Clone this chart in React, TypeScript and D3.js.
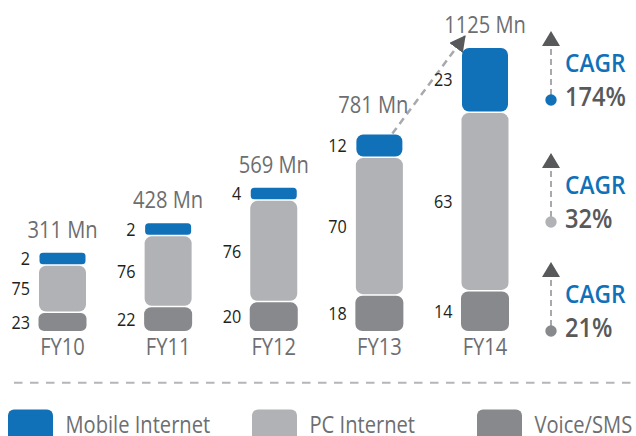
import React from "react";
import * as d3 from "d3";

// ---- data ----
const categories = ["FY10", "FY11", "FY12", "FY13", "FY14"];
const totals = [311, 428, 569, 781, 1125];
const voiceShare = [23, 22, 20, 18, 14];
const pcShare = [75, 76, 76, 70, 63];
const mobileShare = [2, 2, 4, 12, 23];
const seriesNames = ["Mobile Internet", "PC Internet", "Voice/SMS"];
const cagrValues = ["174%", "32%", "21%"];
const totalUnit = "Mn";

// ---- styles ----
const BLUE = "#1071b9";
const LIGHT = "#b1b2b5";
const DARK = "#88898c";
const TEXT_GRAY = "#6d6e71";
const TEXT_DARK = "#58595b";
const FONT = "'Open Sans', 'Noto Sans', sans-serif";
const seriesColors = [BLUE, LIGHT, DARK];
const SX = 0.875;

function T(props: {
  x: number;
  y: number;
  size: number;
  fill: string;
  anchor?: string;
  weight?: number;
  dy?: string;
  children: React.ReactNode;
}) {
  const { x, y, size, fill, anchor = "start", weight = 400, dy, children } = props;
  return (
    <text
      transform={`translate(${x},${y}) scale(${SX},1)`}
      textAnchor={anchor}
      fontSize={size}
      fontWeight={weight}
      fill={fill}
      dy={dy}
    >
      {children}
    </text>
  );
}

export default function App() {
  const W = 636;
  const H = 436;
  const base = 331;
  const bw = 47;
  const gap = 1.5;
  const minSeg = 13;

  const x = d3.scalePoint<string>().domain(categories).range([62.5, 485]);
  const h = d3.scaleLinear().domain([0, d3.max(totals)!]).range([0, 283]);

  const bars = categories.map((c, i) => {
    const total = h(totals[i]);
    const dark = (total * voiceShare[i]) / 100;
    const blue = Math.max((total * mobileShare[i]) / 100, minSeg);
    const light = total - dark - blue;
    const cx = x(c)!;
    const top = base - total;
    const segs = [
      { key: "voice", y0: base - dark, y1: base, color: DARK, val: voiceShare[i], w: bw + 1 },
      { key: "pc", y0: base - dark - light, y1: base - dark - gap, color: LIGHT, val: pcShare[i], w: bw },
      { key: "mobile", y0: top, y1: base - dark - light - gap, color: BLUE, val: mobileShare[i], w: bw - 1 },
    ];
    return { c, i, cx, top, segs };
  });

  const n = bars.length;
  const a = bars[n - 2];
  const b = bars[n - 1];
  const arrowStart = [a.cx + 13, a.top - 1];
  const arrowEnd = [b.cx - 20, b.top - 12];

  const cagrTops = [31, 153, 262];
  const cagrDot = [BLUE, LIGHT, DARK];
  const cx0 = 551;

  const legendX = [8, 252, 477];

  return (
    <svg
      width={W}
      height={H}
      style={{ position: "absolute", left: 0, top: 0, fontFamily: FONT }}
    >
      <rect width={W} height={H} fill="#ffffff" />
      <defs>
        <marker
          id="ah"
          markerUnits="userSpaceOnUse"
          markerWidth={18}
          markerHeight={18}
          refX={15}
          refY={8.5}
          orient="auto"
        >
          <path d="M0,0 L16,8.5 L0,17 Z" fill={TEXT_DARK} />
        </marker>
      </defs>

      {/* arrow between last two bars */}
      <line
        x1={arrowStart[0]}
        y1={arrowStart[1]}
        x2={arrowEnd[0]}
        y2={arrowEnd[1]}
        stroke="#a7a9ac"
        strokeWidth={2.5}
        strokeDasharray="7 5"
        markerEnd="url(#ah)"
      />

      {bars.map((bar) => (
        <g key={bar.c}>
          {bar.segs.map((s) => {
            const hh = s.y1 - s.y0;
            return (
              <g key={s.key}>
                <rect
                  x={bar.cx - s.w / 2}
                  y={s.y0}
                  width={s.w}
                  height={hh}
                  rx={Math.min(7, hh / 3.2)}
                  fill={s.color}
                />
                <T
                  x={bar.cx - bw / 2 - 9}
                  y={(s.y0 + s.y1) / 2}
                  dy="0.36em"
                  anchor="end"
                  size={18.5}
                  fill="#231f20"
                >
                  {s.val}
                </T>
              </g>
            );
          })}
          <T
            x={bar.cx + (bar.i === n - 2 ? -6 : 0)}
            y={bar.top - 15 + (bar.i === n - 2 ? -7 : 0)}
            anchor="middle"
            size={23}
            fill={TEXT_GRAY}
          >
            {`${totals[bar.i]} ${totalUnit}`}
          </T>
          <T x={bar.cx} y={355} anchor="middle" size={23} fill={TEXT_GRAY}>
            {bar.c}
          </T>
        </g>
      ))}

      {/* CAGR annotations */}
      {cagrValues.map((v, i) => {
        const t = cagrTops[i];
        return (
          <g key={v}>
            <path
              d={`M${cx0 - 9},${t + 15} L${cx0 + 9},${t + 15} L${cx0},${t} Z`}
              fill={TEXT_DARK}
            />
            <line
              x1={cx0}
              x2={cx0}
              y1={t + 18}
              y2={t + 65}
              stroke="#a7a9ac"
              strokeWidth={2}
              strokeDasharray="6 4"
            />
            <circle cx={cx0} cy={t + 69} r={5.7} fill={cagrDot[i]} />
            <T x={565} y={t + 41} size={26} weight={600} fill={BLUE}>
              CAGR
            </T>
            <T x={565} y={t + 75} size={27} weight={600} fill={TEXT_DARK}>
              {v}
            </T>
          </g>
        );
      })}

      {/* separator */}
      <line
        x1={14}
        x2={W}
        y1={382.7}
        y2={382.7}
        stroke="#b4b5b8"
        strokeWidth={2}
        strokeDasharray="8.5 7.5"
      />

      {/* legend */}
      {seriesNames.map((name, i) => (
        <g key={name}>
          <rect x={legendX[i]} y={409.5} width={45} height={32} rx={6} fill={seriesColors[i]} />
          <T x={legendX[i] + 57.5} y={433.3} size={23} fill={TEXT_GRAY}>
            {name}
          </T>
        </g>
      ))}
    </svg>
  );
}
